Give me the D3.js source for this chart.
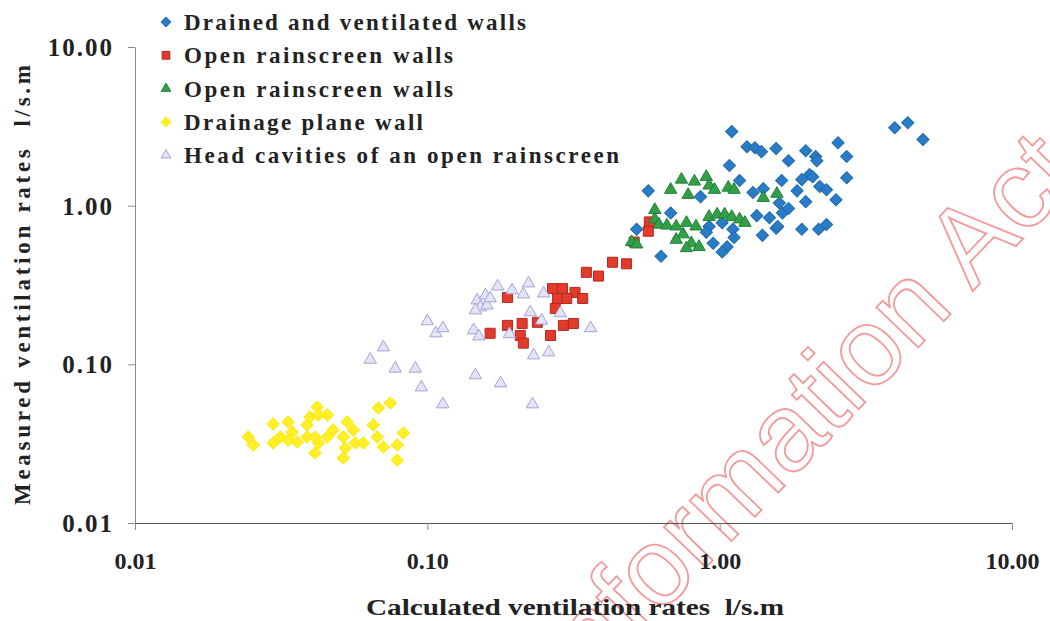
<!DOCTYPE html>
<meta charset="utf-8">
<style>
body { margin: 0; background: #fff; }
svg { display: block; }
.tick text { font-family: "Liberation Serif", "Times New Roman", serif; font-weight: bold; fill: #222; }
.axis path, .axis line { stroke: #8a8a8a; }
.lab { font-family: "Liberation Serif", "Times New Roman", serif; font-weight: bold; fill: #222; white-space: pre; }
</style>
<body>
<svg width="1050" height="621"></svg>
<script src="https://cdn.jsdelivr.net/npm/d3@7"></script>
<script>

// [calculated, measured] in l/s.m
var drained = [
  [3.97,3.10],[4.40,3.33],[4.96,2.61],[1.10,2.93],[1.24,2.35],[1.32,2.32],[1.39,2.19],
  [1.56,2.29],[1.72,1.92],[1.97,2.22],[2.13,2.04],[2.15,1.92],[2.54,2.49],[2.72,2.04],
  [2.72,1.50],[1.08,1.79],[1.17,1.44],[1.63,1.44],[1.30,1.21],[1.41,1.28],[1.60,1.04],
  [1.91,1.46],[2.03,1.57],[2.08,1.52],[1.84,1.24],[2.20,1.32],[2.32,1.26],[1.97,1.06],
  [2.50,1.09],[1.34,0.865],[1.48,0.84],[1.64,0.90],[1.72,0.96],[1.56,0.72],[1.58,0.74],
  [1.40,0.65],[1.91,0.71],[2.18,0.71],[2.32,0.76],[0.57,1.24],[0.86,1.14],[0.68,0.90],
  [0.52,0.71],[0.63,0.48],[0.92,0.74],[1.02,0.78],[1.11,0.71],[1.12,0.63],[1.06,0.55],
  [1.02,0.51],[0.95,0.58],[0.90,0.68]
];
var openRed = [
  [0.575,0.79],[0.57,0.69],[0.51,0.59],[0.48,0.43],[0.43,0.44],[0.35,0.38],[0.385,0.36],
  [0.268,0.30],[0.29,0.30],[0.32,0.284],[0.34,0.26],[0.279,0.26],[0.30,0.26],[0.274,0.225],
  [0.188,0.264],[0.164,0.157],[0.188,0.176],[0.211,0.181],[0.238,0.184],[0.208,0.152],
  [0.213,0.136],[0.264,0.152],[0.292,0.176],[0.316,0.181]
];
var openGreen = [
  [0.68,1.26],[0.74,1.46],[0.82,1.42],[0.90,1.52],[0.92,1.34],[0.78,1.17],[0.96,1.26],
  [1.07,1.30],[1.12,1.26],[1.41,1.12],[1.57,1.19],[0.60,0.94],[0.60,0.82],[0.62,0.76],
  [0.66,0.75],[0.71,0.74],[0.77,0.78],[0.83,0.74],[0.75,0.66],[0.71,0.61],[0.80,0.58],
  [0.77,0.54],[0.85,0.55],[0.92,0.85],[0.98,0.88],[1.04,0.88],[1.10,0.85],[1.17,0.82],
  [1.22,0.78],[0.50,0.59],[0.52,0.57]
];
var drainage = [
  [0.0244,0.0348],[0.0254,0.0310],[0.0297,0.0421],[0.0297,0.0319],[0.0314,0.0348],
  [0.0334,0.0433],[0.0345,0.0374],[0.0334,0.0333],[0.0359,0.0324],[0.0388,0.0415],
  [0.0397,0.0466],[0.0420,0.0538],[0.0424,0.0480],[0.0455,0.0480],[0.0388,0.0348],
  [0.0413,0.0348],[0.0424,0.0319],[0.0413,0.0276],[0.0455,0.0348],[0.0476,0.0385],
  [0.0516,0.0348],[0.0532,0.0433],[0.0558,0.0385],[0.0524,0.0297],[0.0516,0.0257],
  [0.0567,0.0319],[0.0604,0.0319],[0.0653,0.0415],[0.0674,0.0348],[0.0680,0.0530],
  [0.0747,0.0570],[0.0707,0.0301],[0.0828,0.0369],[0.0789,0.0310],[0.0789,0.0249]
];
var headCavities = [
  [0.174,0.310],[0.195,0.293],[0.213,0.276],[0.222,0.324],[0.250,0.280],[0.148,0.253],
  [0.158,0.272],[0.152,0.229],[0.160,0.235],[0.164,0.261],[0.146,0.219],[0.144,0.164],
  [0.150,0.150],[0.100,0.187],[0.107,0.157],[0.113,0.169],[0.225,0.213],[0.246,0.189],
  [0.285,0.210],[0.191,0.155],[0.231,0.114],[0.260,0.119],[0.362,0.169],[0.0707,0.128],
  [0.0638,0.107],[0.0777,0.094],[0.091,0.094],[0.0954,0.0716],[0.146,0.0853],
  [0.178,0.076],[0.113,0.056],[0.229,0.056]
];

var seriesNames = ["Drained and ventilated walls", "Open rainscreen walls", "Open rainscreen walls",
  "Drainage plane wall", "Head cavities of an open rainscreen"];
var tickValues = [0.01, 0.1, 1, 10];
var xTitle = "Calculated ventilation rates  l/s.m";
var yTitle = "Measured ventilation rates  l/s.m";

var svg = d3.select("svg");

var x = d3.scaleLog().domain([0.01, 10]).range([135, 1012]);
var y = d3.scaleLog().domain([0.01, 10]).range([523, 47]);

// series styles, in drawing order
var series = [
  {name: seriesNames[0], data: drained,      shape: "diamond",  fill: "#2a7cc6", stroke: "#1f6ab0"},
  {name: seriesNames[1], data: openRed,      shape: "square",   fill: "#e23a2c", stroke: "#b5281c"},
  {name: seriesNames[2], data: openGreen,    shape: "triangle", fill: "#33a047", stroke: "#21803a"},
  {name: seriesNames[3], data: drainage,     shape: "diamond",  fill: "#fff024", stroke: "#fbe81a"},
  {name: seriesNames[4], data: headCavities, shape: "triangle", fill: "#e4e4f6", stroke: "#a2a2dc"}
];

function marker(shape, scale) {
  if (shape === "diamond") return d3.symbol().type(d3.symbolSquare).size(74 * scale)();
  if (shape === "square") return d3.symbol().type(d3.symbolSquare).size(100 * scale)();
  return d3.symbol().type(d3.symbolTriangle).size(66 * scale)();
}
function rot(shape) { return shape === "diamond" ? " rotate(45)" : ""; }

// watermark from the scanned page
svg.append("text")
  .attr("transform", "translate(1083,177) rotate(-46)")
  .attr("text-anchor", "end")
  .style("font-family", "'Liberation Sans', Arial, sans-serif")
  .style("font-size", "110px")
  .style("fill", "none")
  .style("stroke", "#f39a9a")
  .style("stroke-width", 1.8)
  .text("Information Act");

// axes
var yAxis = d3.axisLeft(y).tickValues(tickValues).tickFormat(d3.format(".2f"))
  .tickSize(7).tickSizeOuter(0).tickPadding(14);
var xAxis = d3.axisBottom(x).tickValues(tickValues).tickFormat(d3.format(".2f"))
  .tickSize(7).tickSizeOuter(0).tickPadding(27);

var gy = svg.append("g").attr("class", "axis").attr("transform", "translate(135,0)").call(yAxis);
gy.selectAll(".tick text").style("font-size", "25px").style("letter-spacing", "2px").attr("dy", "0.34em");

var gx = svg.append("g").attr("class", "axis").attr("transform", "translate(0,523)").call(xAxis);
gx.selectAll(".tick text").style("font-size", "24px").attr("dy", "0.5em");
gx.select(".domain").style("stroke", "#555");

// points
series.forEach(function(s) {
  svg.append("g").selectAll("path")
    .data(s.data)
    .enter().append("path")
    .attr("d", marker(s.shape, 1))
    .attr("transform", function(d) { return "translate(" + x(d[0]) + "," + y(d[1]) + ")" + rot(s.shape); })
    .style("fill", s.fill)
    .style("stroke", s.stroke)
    .style("stroke-width", 1);
});

// axis titles
svg.append("text").attr("class", "lab")
  .attr("x", 575).attr("y", 615)
  .attr("text-anchor", "middle")
  .attr("textLength", 418).attr("lengthAdjust", "spacingAndGlyphs")
  .style("font-size", "24px")
  .text(xTitle);

svg.append("text").attr("class", "lab")
  .attr("transform", "translate(30,285) rotate(-90)")
  .attr("text-anchor", "middle")
  .attr("textLength", 440).attr("lengthAdjust", "spacing")
  .style("font-size", "23px")
  .text(yTitle);

// legend
var legendW = [342, 269, 269, 239, 435];
var legend = svg.append("g");
series.forEach(function(s, i) {
  var ly = 22 + i * 33.3;
  legend.append("path")
    .attr("d", marker(s.shape, 0.6))
    .attr("transform", "translate(166," + ly + ")" + rot(s.shape))
    .style("fill", s.fill)
    .style("stroke", s.stroke);
  legend.append("text").attr("class", "lab")
    .attr("x", 184).attr("y", ly + 8)
    .attr("textLength", legendW[i]).attr("lengthAdjust", "spacing")
    .style("font-size", "23px")
    .text(s.name);
});

</script>
</body>
</html>
